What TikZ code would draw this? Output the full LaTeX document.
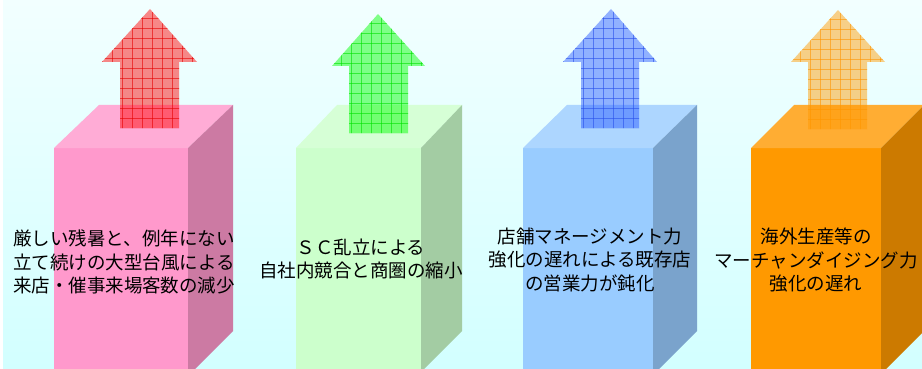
\documentclass[tikz,border=0pt]{standalone}
\usepackage{fontspec}
\newfontfamily\jp{Noto Sans CJK JP}
\definecolor{bgtop}{HTML}{F2FFFF}
\definecolor{bgbot}{HTML}{D2FFFF}
\definecolor{pinkF}{HTML}{FF99CC}
\definecolor{pinkT}{HTML}{FFACD6}
\definecolor{pinkS}{HTML}{CC7AA3}
\definecolor{greenF}{HTML}{CCFFCC}
\definecolor{greenT}{HTML}{D6FFD6}
\definecolor{greenS}{HTML}{A3CCA3}
\definecolor{blueF}{HTML}{99CCFF}
\definecolor{blueT}{HTML}{ADD6FF}
\definecolor{blueS}{HTML}{7AA3CC}
\definecolor{orangeF}{HTML}{FF9900}
\definecolor{orangeT}{HTML}{FFAD33}
\definecolor{orangeS}{HTML}{CC7A00}
\definecolor{arrR}{RGB}{255,0,0}
\definecolor{arrG}{RGB}{0,255,0}
\definecolor{arrB}{RGB}{40,90,255}
\definecolor{arrO}{RGB}{255,153,0}
\definecolor{lnR}{RGB}{230,0,0}
\definecolor{lnG}{RGB}{0,225,0}
\definecolor{lnB}{RGB}{40,80,235}
\definecolor{lnO}{RGB}{255,150,0}
\tikzset{
  lbl/.style={align=center, inner sep=0pt, text=black,
    font=\jp\fontsize{18.5}{23.5}\selectfont},
}
% cuboid: #1 left, #2 right, #3 depth, #4 front colour, #5 top colour, #6 side colour
\newcommand\myCuboid[6]{%
  \fill[#4] (#1,148) rectangle (#2,380);
  \fill[#5] (#1,148) -- ({#1+#3},105) -- ({#2+#3},105) -- (#2,148) -- cycle;
  \fill[#6] (#2,148) -- ({#2+#3},105) -- ({#2+#3},331) -- (#2,{331+#3}) -- cycle;
}
% arrow: #1 tip x, #2 tip y, #3 head base y, #4 head left, #5 head right,
% #6 shaft left, #7 shaft right, #8 shaft bottom, #9 colour suffix
\newcommand\myArrow[9]{%
  \fill[arr#9, fill opacity=0.47] (#1,#2) -- (#5,#3) -- (#7,#3) -- (#7,#8) -- (#6,#8) -- (#6,#3) -- (#4,#3) -- cycle;
  \begin{scope}
    \clip (#1,#2) -- (#5,#3) -- (#7,#3) -- (#7,#8) -- (#6,#8) -- (#6,#3) -- (#4,#3) -- cycle;
    \foreach \gx in {-5,...,10}
      \draw[ln#9, opacity=0.6, line width=0.55pt] ({#6+2.5+10*\gx},0) -- ({#6+2.5+10*\gx},150);
    \foreach \gy in {0,...,13}
      \draw[ln#9, opacity=0.6, line width=0.55pt] ({#4-5},{#2+9+10*\gy}) -- ({#5+5},{#2+9+10*\gy});
  \end{scope}
}
\begin{document}
\begin{tikzpicture}[x=1pt, y=-1pt]
\useasboundingbox (0,0) rectangle (922,369);
\clip (0,0) rectangle (922,369);
\fill[white] (0,0) rectangle (922,369);
\shade[top color=bgtop, bottom color=bgbot] (3,0) rectangle (922,369);

\myCuboid{54}{188}{45}{pinkF}{pinkT}{pinkS}
\myCuboid{296}{421}{41}{greenF}{greenT}{greenS}
\myCuboid{523}{653}{44}{blueF}{blueT}{blueS}
\myCuboid{751}{881}{43}{orangeF}{orangeT}{orangeS}

\myArrow{150}{9}{62}{102}{197}{120}{179}{128}{R}
\myArrow{378}{14}{66}{332}{425}{349}{408}{133}{G}
\myArrow{611}{9}{62}{563}{657}{581}{639}{128}{B}
\myArrow{838}{10}{62}{791}{885}{808}{867}{129}{O}

\node[lbl] (t1) at (124,262) {厳しい残暑と、例年にない\\立て続けの大型台風による\\来店・催事来場客数の減少};
\node[lbl] (t2) at (361,259) {ＳＣ乱立による\\自社内競合と商圏の縮小};
\node[lbl] (t3) at (590,259.5) {店舗マネージメント力\\強化の遅れによる既存店\\の営業力が鈍化};
\node[lbl] (t4) at (816,260.5) {海外生産等の\\マーチャンダイジング力\\強化の遅れ};
\end{tikzpicture}
\end{document}
